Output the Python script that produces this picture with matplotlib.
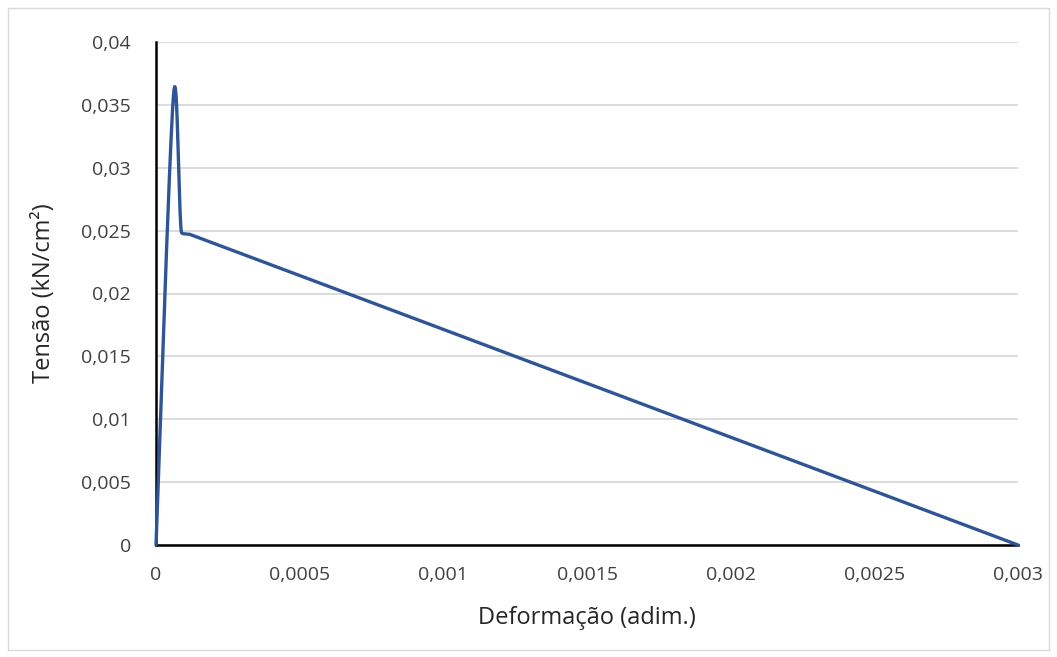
import numpy as np
import matplotlib
matplotlib.use("Agg")
import matplotlib.pyplot as plt
from matplotlib.ticker import FixedLocator, FuncFormatter

# Stress-strain points
strain = [0.0, 0.000061, 0.000088, 0.000118, 0.003]
stress = [0.0, 0.0358, 0.0249, 0.0247, 0.0]

x_ticks = [0, 0.0005, 0.001, 0.0015, 0.002, 0.0025, 0.003]
y_ticks = [0, 0.005, 0.01, 0.015, 0.02, 0.025, 0.03, 0.035, 0.04]

W, H = 1057, 657
AX_L, AX_R, AX_T, AX_B = 156, 1018, 42, 545


def smooth(xs, ys, sx, sy, n=80):
    """Bezier smoothing in screen proportions, with control arms clamped
    to a third of the adjacent segment so nothing loops back."""
    pts = np.column_stack([np.asarray(xs, float) * sx, np.asarray(ys, float) * sy])
    out = []
    for i in range(len(pts) - 1):
        p0 = pts[i - 1] if i > 0 else pts[i]
        p1 = pts[i]
        p2 = pts[i + 1]
        p3 = pts[i + 2] if i + 2 < len(pts) else pts[i + 1]
        seg_len = np.linalg.norm(p2 - p1)
        t1 = (p2 - p0) / 6.0
        t2 = (p3 - p1) / 6.0
        for t in (t1, t2):
            L = np.linalg.norm(t)
            if L > seg_len / 3.0:
                t *= (seg_len / 3.0) / L
        c1 = p1 + t1
        c2 = p2 - t2
        tt = np.linspace(0, 1, n)[:, None]
        seg = ((1 - tt) ** 3) * p1 + 3 * ((1 - tt) ** 2) * tt * c1 \
            + 3 * (1 - tt) * tt ** 2 * c2 + tt ** 3 * p2
        out.append(seg if i == 0 else seg[1:])
    seg = np.vstack(out)
    return seg[:, 0] / sx, seg[:, 1] / sy


plt.rcParams['font.family'] = ['Open Sans', 'DejaVu Sans']

fig = plt.figure(figsize=(W / 100, H / 100), dpi=100)
ax = fig.add_axes([AX_L / W, 1 - AX_B / H, (AX_R - AX_L) / W, (AX_B - AX_T) / H])

px_x = (AX_R - AX_L) / 0.003
px_y = (AX_B - AX_T) / 0.04
cx, cy = smooth(strain, stress, px_x, px_y)
ax.plot(cx, cy, color='#2F5597', lw=2.4, solid_capstyle='round',
        solid_joinstyle='round', zorder=3, clip_on=False)

ax.set_xlim(0, 0.003)
ax.set_ylim(0, 0.04)
ax.xaxis.set_major_locator(FixedLocator(x_ticks))
ax.yaxis.set_major_locator(FixedLocator(y_ticks))


def comma(v, pos):
    if v == 0:
        return '0'
    s = ('%.4f' % v).rstrip('0').rstrip('.')
    return s.replace('.', ',')


ax.xaxis.set_major_formatter(FuncFormatter(comma))
ax.yaxis.set_major_formatter(FuncFormatter(comma))

ax.grid(axis='y', color='#D9D9D9', lw=1.3)
ax.set_axisbelow(True)
for side in ['top', 'right']:
    ax.spines[side].set_visible(False)
for side in ['left', 'bottom']:
    ax.spines[side].set_color('black')
    ax.spines[side].set_linewidth(1.8)
ax.tick_params(length=0, labelsize=14, labelcolor='#404040')
ax.tick_params(axis='y', pad=18)
ax.tick_params(axis='x', pad=15)

ax.set_xlabel('Deformação (adim.)', fontsize=17, color='#262626', labelpad=16)
ax.set_ylabel('Tensão (kN/cm²)', fontsize=17, color='#262626', labelpad=18)

# chart border
fig.patches.append(plt.Rectangle((8 / W, 7 / H), 1 - 16 / W, 1 - 15 / H,
                                 transform=fig.transFigure, fill=False,
                                 edgecolor='#D9D9D9', lw=1.0))

fig.savefig('out.png', dpi=100)
